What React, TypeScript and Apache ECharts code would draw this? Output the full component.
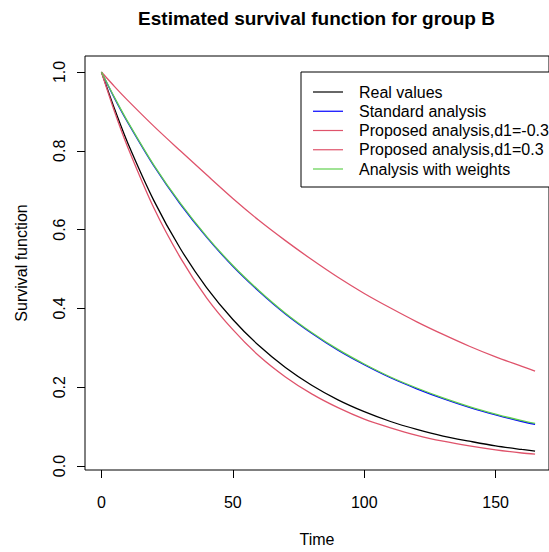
import React, { useEffect, useRef } from "react";
import * as echarts from "echarts";

const times = [0, 5, 10, 20, 30, 40, 50, 60, 70, 80, 90, 100, 110, 120, 130, 140, 150, 160, 165];
const realValues = [1, 0.906, 0.82, 0.673, 0.552, 0.453, 0.372, 0.305, 0.25, 0.205, 0.168, 0.138, 0.113, 0.093, 0.076, 0.063, 0.051, 0.042, 0.038];
const standardAnalysis = [1, 0.933, 0.872, 0.761, 0.665, 0.581, 0.507, 0.443, 0.386, 0.337, 0.294, 0.257, 0.224, 0.196, 0.171, 0.149, 0.13, 0.113, 0.106];
const proposedNeg = [1, 0.963, 0.928, 0.862, 0.8, 0.739, 0.679, 0.623, 0.572, 0.524, 0.479, 0.438, 0.401, 0.366, 0.334, 0.304, 0.277, 0.253, 0.241];
const proposedPos = [1, 0.899, 0.809, 0.654, 0.529, 0.427, 0.346, 0.279, 0.226, 0.183, 0.148, 0.119, 0.097, 0.078, 0.063, 0.051, 0.041, 0.033, 0.03];
const withWeights = [1, 0.935, 0.874, 0.763, 0.667, 0.583, 0.509, 0.445, 0.388, 0.339, 0.296, 0.259, 0.226, 0.198, 0.173, 0.151, 0.132, 0.115, 0.108];

const xTicks = [0, 50, 100, 150];
const yTicks = [0, 0.2, 0.4, 0.6, 0.8, 1.0];

const seriesNames = [
  "Real values",
  "Standard analysis",
  "Proposed analysis,d1=-0.3",
  "Proposed analysis,d1=0.3",
  "Analysis with weights",
];
const seriesColors = ["#000000", "#0000FF", "#DF536B", "#DF536B", "#61D04F"];
const seriesValues = [realValues, standardAnalysis, proposedNeg, proposedPos, withWeights];

const FONT = "'Liberation Sans', Arial, sans-serif";

export default function App() {
  const ref = useRef<HTMLDivElement>(null);
  useEffect(() => {
    if (!ref.current) return;
    const chart = echarts.init(ref.current, null, { renderer: "svg" });
    const legendX = 301;
    const legendY = 72;
    const rowStart = 92;
    const rowGap = 19.25;
    const legendGraphics: any[] = [
      {
        type: "rect",
        shape: { x: legendX, y: legendY, width: 260, height: 115 },
        style: { fill: "#fff", stroke: "#000", lineWidth: 1 },
        z: 100,
      },
    ];
    seriesNames.forEach((n, i) => {
      const y = rowStart + i * rowGap;
      legendGraphics.push({
        type: "line",
        shape: { x1: 313, y1: y, x2: 343, y2: y },
        style: { stroke: seriesColors[i], lineWidth: 1.2 },
        z: 101,
      });
      legendGraphics.push({
        type: "text",
        x: 359,
        y,
        style: {
          text: n,
          fill: "#000",
          font: `16px ${FONT}`,
          textAlign: "left",
          textVerticalAlign: "middle",
        },
        z: 101,
      });
    });

    chart.setOption({
      animation: false,
      backgroundColor: "#fff",
      grid: {
        left: 85,
        top: 56,
        right: -6,
        bottom: 81,
        show: true,
        borderColor: "#000",
        borderWidth: 1,
        containLabel: false,
      },
      xAxis: {
        type: "value",
        min: -6.26,
        max: 170.3,
        name: "Time",
        nameLocation: "middle",
        nameGap: 61,
        nameTextStyle: { fontSize: 16, color: "#000", fontFamily: FONT },
        axisLine: { show: false, onZero: false },
        splitLine: { show: false },
        axisTick: {
          show: true,
          customValues: xTicks,
          length: 8,
          lineStyle: { color: "#000", width: 1 },
        },
        axisLabel: {
          customValues: xTicks,
          margin: 24,
          fontSize: 16,
          color: "#000",
          fontFamily: FONT,
        },
      },
      yAxis: {
        type: "value",
        min: -0.0101,
        max: 1.0406,
        name: "Survival function",
        nameLocation: "middle",
        nameGap: 56,
        nameTextStyle: { fontSize: 16, color: "#000", fontFamily: FONT },
        axisLine: { show: false, onZero: false },
        splitLine: { show: false },
        axisTick: {
          show: true,
          customValues: yTicks,
          length: 8,
          lineStyle: { color: "#000", width: 1 },
        },
        axisLabel: {
          customValues: yTicks,
          rotate: 90,
          margin: 18,
          fontSize: 16,
          color: "#000",
          fontFamily: FONT,
          formatter: (v: number) => v.toFixed(1),
        },
      },
      series: seriesNames.map((n, i) => ({
        name: n,
        type: "line",
        data: times.map((t, j) => [t, seriesValues[i][j]]),
        showSymbol: false,
        symbol: "none",
        smooth: 0.3,
        lineStyle: { color: seriesColors[i], width: 1.3 },
        itemStyle: { color: seriesColors[i] },
        z: 2 + i,
      })),
      graphic: [
        {
          type: "text",
          x: 316.5,
          y: 18,
          style: {
            text: "Estimated survival function for group B",
            fill: "#000",
            font: `bold 19px ${FONT}`,
            textAlign: "center",
            textVerticalAlign: "middle",
          },
        },
        ...legendGraphics,
      ],
    });
    return () => chart.dispose();
  }, []);
  return (
    <div
      ref={ref}
      style={{ position: "fixed", left: 0, top: 0, width: 549, height: 552 }}
    />
  );
}
